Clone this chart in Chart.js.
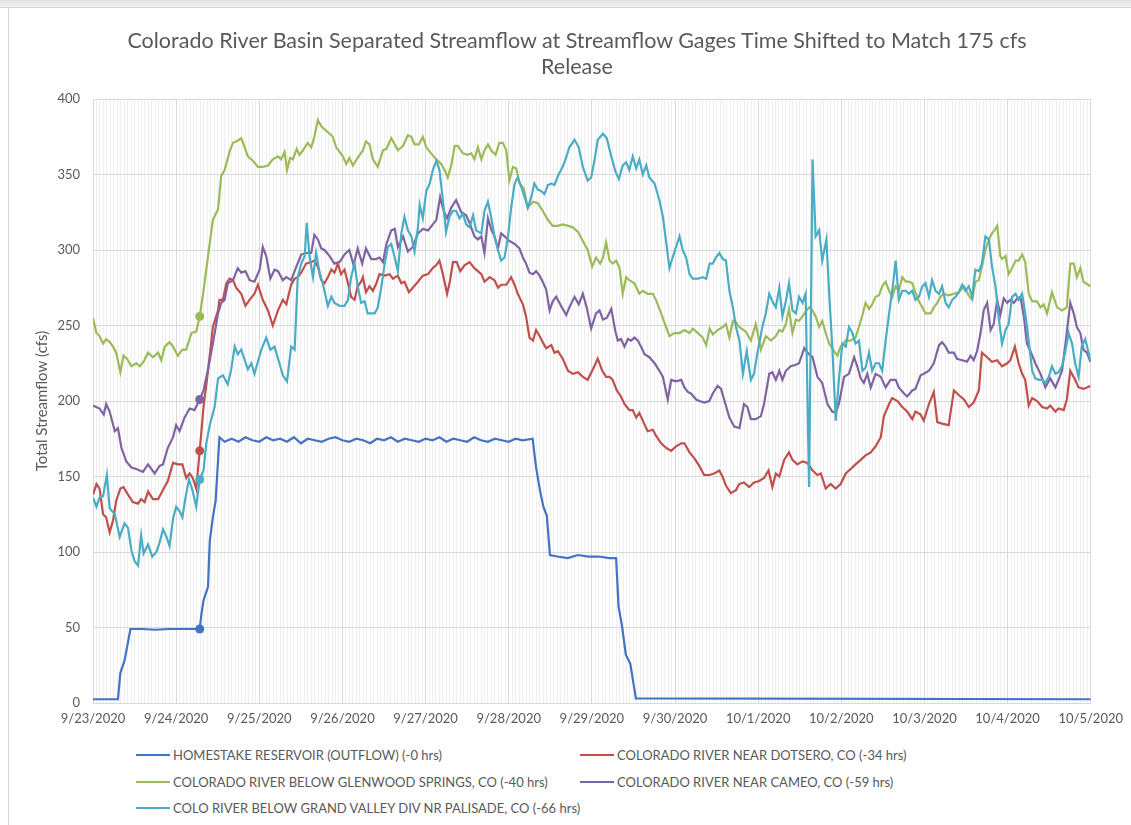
<!DOCTYPE html>
<html><head><meta charset="utf-8">
<script src="https://cdn.jsdelivr.net/npm/chart.js@4.4.1/dist/chart.umd.min.js"></script>
<style>
html,body{margin:0;padding:0;background:#fff;}
body{width:1131px;height:825px;position:relative;overflow:hidden;font-family:Lato,"Open Sans",sans-serif;}
#frameTop{position:absolute;left:0;top:0;width:1131px;height:7px;background:linear-gradient(#e4e4e4,#f2f2f2);border-bottom:1px solid #d4d4d4;}
#frameLeft{position:absolute;left:8px;top:8px;width:1px;height:817px;background:#d4d4d4;}
#title{position:absolute;left:0;width:1154px;top:27px;text-align:center;color:#595959;font-size:21.5px;line-height:26px;}
#c{position:absolute;left:0;top:0;}
.leg{position:absolute;height:18px;font-size:13px;color:#595959;white-space:nowrap;display:flex;align-items:center;}
.leg i{display:inline-block;width:34px;height:2px;margin-right:3px;}
</style></head>
<body>
<div id="frameTop"></div><div id="frameLeft"></div>
<canvas id="c" width="1131" height="740"></canvas>
<div id="title">Colorado River Basin Separated Streamflow at Streamflow Gages Time Shifted to Match 175 cfs<br>Release</div>
<div class="leg" style="left:136px;top:746px"><i style="background:#4472C4"></i>HOMESTAKE RESERVOIR (OUTFLOW) (-0 hrs)</div>
<div class="leg" style="left:580px;top:746px"><i style="background:#C0504D"></i>COLORADO RIVER NEAR DOTSERO, CO (-34 hrs)</div>
<div class="leg" style="left:136px;top:773px"><i style="background:#9BBB59"></i>COLORADO RIVER BELOW GLENWOOD SPRINGS, CO (-40 hrs)</div>
<div class="leg" style="left:580px;top:773px"><i style="background:#8064A2"></i>COLORADO RIVER NEAR CAMEO, CO (-59 hrs)</div>
<div class="leg" style="left:136px;top:799px"><i style="background:#4BACC6"></i>COLO RIVER BELOW GRAND VALLEY DIV NR PALISADE, CO (-66 hrs)</div>
<script>
// x values are hours after 9/23/2020 00:00
const dateLabels = ['9/23/2020','9/24/2020','9/25/2020','9/26/2020','9/27/2020','9/28/2020','9/29/2020','9/30/2020','10/1/2020','10/2/2020','10/3/2020','10/4/2020','10/5/2020'];
const markerHour = 30.8;

const homestakeHours = [0,7.2,7.9,9.1,10.8,14,18,22,26,30.8,31.3,31.9,33.2,33.7,34.6,35.4,36.5,38,40,42,44,46,48,50,52,54,56,58,60,62,64,66,68,70,72,74,76,78,80,82,84,86,88,90,92,94,96,98,100,102,104,106,108,110,112,114,116,118,120,122,124,126.9,127.9,129,130,131,131.9,134,137,140,143,146,149,151,151.7,152.7,153.8,155.1,156.7,288];
const homestakeFlow  = [2.5,2.5,20,28,49,49,48.5,49,49,49,59,68,77,107,123,134,176,173,175,173,176,174,173,176,174,175,173,176,172,175,174,173,175,176,174,173,175,174,172,175,174,176,173,175,174,173,175,174,176,173,175,174,173,176,174,173,175,174,173,175,174,175,156,141,130,124,98,97,96,98,97,97,96,96,64,51,32,26,3,2.5];

const dotseroHours = [0,1,1.9,2.9,3.8,4.8,5.8,6.7,7.9,8.8,10.1,11.5,13,13.9,14.9,15.9,17.3,18.8,20.2,21.6,23.1,24.5,25.8,26.9,27.9,28.8,29.8,30.8,31.9,33.2,34.6,36.1,36.5,37.5,38.5,39.4,40.4,41.3,42.8,44,45.2,46.6,47.6,49,50.5,51.9,53.4,54.8,55.8,57.2,58.2,59.1,60.1,61.5,63,63.9,64.9,65.9,66.8,67.8,68.8,69.7,70.7,71.6,72.6,73.6,74.5,75.5,76.4,77.4,77.9,78.8,79.8,80.8,81.8,82.7,84.2,85.6,86.6,88,89,89.9,91.2,92.3,93.8,95.2,96.7,98.1,99.1,100,101,102.2,103,103.9,105,106,107.3,108.7,110.1,111.1,112.1,113,114.5,115.9,116.9,117.8,119.3,120.7,121.7,122.6,124.1,125,126,127,127.9,128.9,129.8,130.8,132.3,133.2,134.2,135.6,137.1,138.5,140,141.4,142.8,144.3,145.7,147,148.1,149.1,150,151.2,152.4,153.4,154.8,155.8,156.8,157.7,158.7,160.1,161.6,162.5,164,165.4,166.9,168.3,169.8,170.7,172.2,173.6,175,176.4,177.9,179.3,180.8,181.7,182.7,184.1,185.6,186.5,187.9,189.4,190.8,192.3,193.7,195,196.1,197.1,198.1,199.5,200.9,201.9,203.3,204.8,206.2,207.7,209.1,210.1,211.5,212.9,214.4,215.8,217.3,218.7,220.1,221.6,223,224.5,225.9,227.4,228.3,229.8,230.7,232.2,233.6,235,236.5,237.4,238.9,239.8,241.3,242.7,243.7,245.1,247,248.5,249.9,251.4,252.8,254.2,255.7,256.6,258.1,259.5,261,262.4,263.9,264.8,266.1,267.2,268.2,269.1,270.1,271.1,272.5,274,275.4,276.3,277.8,278.7,280.2,281.1,282.1,283.5,284.5,285.9,287.9];
const dotseroFlow  = [138,145,142,125,123,113,121,134,142,143,138,133,132,135,133,140,135,135,141,147,159,158,158,149,152,149,142,167,196,220,249,260,267,267,278,281,280,275,271,263,267,271,277,267,260,250,260,267,264,277,281,282,285,291,292,293,289,280,278,282,287,285,291,284,287,278,269,267,276,279,282,272,276,273,278,284,283,284,281,283,278,279,272,275,279,283,284,288,290,293,284,271,279,292,292,286,290,292,288,286,284,279,282,280,275,277,277,282,277,271,264,256,242,240,247,243,239,235,237,232,233,228,220,218,219,216,214,221,228,220,216,216,214,207,203,198,194,194,189,192,187,180,181,177,172,169,167,170,172,172,166,162,157,151,151,152,154,150,144,139,141,145,146,143,146,147,149,154,143,152,150,161,166,161,158,160,159,154,151,152,142,145,142,145,152,155,158,161,164,166,170,176,190,198,202,200,196,193,188,193,191,187,198,206,186,185,184,207,204,201,196,199,207,232,229,226,227,223,225,227,236,225,218,214,197,202,200,196,195,197,193,195,194,201,220,214,209,208,210];

const glenwoodHours = [0,1,1.9,2.9,3.8,4.8,5.8,6.7,7.9,8.8,9.8,11.1,12.5,13.5,14.6,15.9,17.3,18.8,19.7,20.7,22.1,23.1,24.5,25.8,26.9,28.4,29.8,30.8,31.9,33.2,34.6,36.1,37,38,39.4,40.4,41.5,42.8,43.8,44.7,46.2,47.6,49,50.5,51.9,53.4,54.3,55.3,56,56.9,57.7,58.8,59.6,60.6,62,63,63.9,64.9,65.9,66.8,68.3,69.2,70.2,71.2,72.1,73.1,74,75,76.4,77.9,78.8,79.8,80.8,82.2,83.7,84.7,86.1,87.1,88,89.5,90.9,91.9,92.8,94.1,95.2,96.2,97.6,99.1,100.5,101.5,102.4,103.4,104.4,105.3,106.8,108.2,109.2,110.1,111.1,112.1,113,114,114.9,116.2,117.3,118.3,119.3,120.2,121.2,122.2,123.1,124.3,125.5,127,128.4,129.8,131.3,132.7,134.2,135.6,137.1,138.5,140,141.4,142.8,144.1,145.2,146.4,147.2,148.1,149.1,150,151,152,152.9,153.9,154.8,156.3,157.7,158.7,160.1,161.6,162.5,164,165.4,166.4,167.8,169.3,170.7,172.2,173.1,174.6,176,177,178,178.9,180.3,181.8,182.7,183.7,184.7,185.6,186.5,188.4,189.9,191.3,192.8,194.2,195.7,197.1,198.1,199,200,200.9,201.9,202.9,203.8,204.8,205.7,206.7,207.7,208.6,209.6,210.5,211.5,212.5,213.9,214.9,215.8,217.3,218.7,220.1,221.1,222.1,223,224,224.9,225.9,226.9,227.8,228.8,229.8,230.7,231.7,232.6,233.6,234.6,235.5,236.5,237.4,238.4,239.4,240.3,241.8,242.7,243.7,244.6,245.6,247,248.5,249.9,251.4,252.8,253.8,254.7,255.7,256.6,257.6,258.6,259.5,260.5,261,261.9,262.4,263.4,264.3,265.3,266.3,267.2,268.2,269.1,270.1,271.1,272.5,273.5,274.4,275.4,276.8,278.3,279.7,281.1,282.1,283.1,284,285,285.9,287.9];
const glenwoodFlow  = [255,245,243,238,241,239,236,232,219,230,228,223,225,223,226,232,229,232,227,236,239,236,230,234,234,245,246,256,273,296,320,327,349,353,365,371,372,374,368,362,359,355,355,356,360,362,360,365,353,361,360,367,363,366,371,368,375,386,382,380,377,375,368,365,362,357,361,356,361,366,372,370,360,355,366,367,374,370,366,369,376,375,370,370,375,368,364,360,357,353,348,356,369,369,364,363,364,360,368,360,366,370,366,363,371,371,366,346,355,354,344,341,328,332,331,326,320,316,316,317,316,315,312,306,300,289,295,291,295,305,293,291,293,288,271,282,280,278,271,273,271,271,267,258,249,243,245,245,247,245,248,245,242,237,248,244,247,249,251,242,253,252,249,246,240,251,234,243,240,243,247,246,251,261,245,254,253,256,259,262,260,256,249,253,245,238,233,230,236,240,240,242,249,257,265,261,264,269,270,276,279,273,269,276,273,282,279,279,278,272,266,262,258,258,262,265,269,271,270,271,272,276,270,267,279,280,289,300,307,311,314,316,296,294,296,284,288,293,293,297,292,271,266,266,262,264,258,272,262,260,262,291,291,282,288,279,276];

const cameoHours = [0,1.9,3.1,3.8,4.8,6.3,7.2,8.2,9.6,11.1,12.5,14.4,15.9,17.8,19.2,20.2,21.6,23.1,24,25,26.4,27.9,29.3,30.8,31.9,33.2,34.6,36.1,37,38,38.9,40.4,41.8,42.8,44,45.2,46.6,48.1,49,50,51.2,52.4,53.4,54.8,55.8,57.2,58.7,60.1,61.5,63,63.9,64.9,65.9,66.8,68.3,69.7,71.2,72.6,74,75.2,76.4,77.7,78.8,80.3,81.7,82.7,83.7,84.7,86.1,87.1,88,89.5,90.9,92.3,93.8,95.2,96.7,98.1,99.1,100.2,101.2,102.2,103.4,104.8,106.3,107.7,108.7,110.1,111.1,112.1,113,114,114.9,115.9,116.9,117.8,118.8,120.2,121.7,123.1,124.1,125,126,127,127.9,128.9,129.8,130.8,131.8,132.7,133.7,135.1,136.6,137.5,139,140.2,141.4,142.5,143.8,145.2,146.2,147.2,148.3,149.6,150.8,151.5,152.4,153.4,154.4,155.3,156.3,157.3,158.2,159.2,160.6,162.1,163.5,164.5,165.9,166.9,168.3,169.8,170.7,171.7,172.6,174.1,175,176.5,177.9,178.9,180.3,181.3,182.3,183.7,185.1,186.6,187.9,188.9,189.9,191.3,192.8,193.7,195.2,196.1,197.1,198.1,199,200,201.4,202.9,203.8,205.3,206.2,207.7,209.1,210.5,212,213.4,214.4,215.3,216.8,218.2,219.7,220.6,221.6,222.5,223.5,224.5,225.9,227.4,228.8,230.2,231.7,232.6,234.1,235,236.5,237.4,238.9,239.8,241.3,242.7,244.2,245.1,246.1,247,248.5,249.4,250.9,252.3,253.3,254.2,255.2,256.2,257.1,258.1,259.1,260,261,261.9,262.9,263.9,264.8,265.8,266.8,267.7,268.7,269.6,270.6,272,273.5,274.9,276.3,277.8,278.7,279.7,280.6,282.1,283.1,284,285,285.9,286.9,287.9];
const cameoFlow  = [197,195,191,198,193,180,182,169,160,156,155,153,158,152,157,158,169,176,184,180,189,195,194,201,207,221,238,258,265,267,278,280,288,285,286,280,279,287,302,296,281,287,286,280,282,280,289,297,298,298,310,307,301,300,296,291,292,297,300,290,301,291,301,294,294,295,292,304,313,314,302,309,299,302,311,314,313,317,320,335,326,321,328,333,325,323,318,309,307,309,298,321,314,309,301,311,309,306,304,301,295,291,285,284,286,283,279,274,260,266,269,263,257,262,269,264,271,262,248,258,260,254,255,261,246,240,241,236,241,240,242,240,236,231,229,225,220,216,201,214,213,214,209,206,205,201,200,199,200,205,210,208,200,189,183,182,198,196,188,188,190,198,218,219,214,220,214,220,223,224,225,235,232,229,216,212,198,193,192,198,216,218,229,223,215,212,218,209,218,216,209,214,214,209,205,203,207,208,217,218,220,225,237,239,236,232,232,228,227,226,230,227,233,245,260,265,247,251,267,257,268,265,267,265,268,269,256,238,233,225,218,209,215,209,214,220,236,265,258,249,245,234,232,226];

const palisadeHours = [0,1,1.9,2.9,4,4.8,6.3,7.7,9.1,10.1,11.1,12,13,13.9,14.6,15.9,17.1,18.3,19.2,20.2,21.2,22.1,23.1,24,25,25.8,26.7,27.7,28.7,29.8,30.8,31.9,32.7,33.8,35.1,36.1,37.5,38.9,39.9,40.9,41.8,42.8,43.8,44.7,45.7,46.6,47.6,48.6,50,51.2,52.4,53.8,54.8,56,57.2,58.2,59.1,60.1,61.1,61.7,62.5,63.5,64.4,65.4,66.3,67.8,68.8,69.7,71.2,72.6,73.6,74.5,75.5,76.4,77.4,78.4,79.3,80.3,81.3,82.2,83.2,84.2,85.1,86.1,87.1,88,89,89.9,90.9,91.9,92.8,93.8,94.3,95.2,96.2,97.2,98.1,99.1,100,101,101.9,102.9,103.9,104.8,105.8,106.8,107.7,108.7,109.7,110.6,112.1,113,114,114.9,115.9,116.9,117.8,118.8,119.8,120.7,121.7,122.6,123.6,124.6,125.5,126.5,127.4,128.4,129.4,130.3,131.3,132.3,133.2,134.2,135.1,136.1,137.5,139,140.2,141.4,142.8,143.8,144.8,145.7,147.2,148.3,149.6,150.8,151.8,152.9,153.9,154.8,155.8,156.8,157.7,158.7,159.7,160.6,162.1,163.5,164.5,165.4,166.4,167.3,168.3,169.3,170.2,171.2,172.2,173.1,174.6,176,177,178,178.9,179.8,180.8,181.8,182.7,183.7,184.7,185.6,186.6,187.6,188.7,189.9,190.8,191.8,193.2,194.2,195.2,196.1,197.1,198.1,199,200,200.9,201.9,202.9,203.8,204.8,205.7,206.7,207.7,208.6,209.6,210.5,211.7,212.5,213.4,214.4,215.3,216.3,217.3,218.2,219.2,220.1,221.1,222.1,223,224,224.9,225.9,226.9,227.8,228.8,229.8,230.7,231.7,232.6,233.6,234.6,235.5,236.5,237.4,238.4,239.4,240.3,241.3,242.2,243.2,244.2,245.1,246.1,247,248,249,249.9,250.9,251.8,252.8,253.8,254.7,255.7,256.6,257.6,258.6,259.5,260.5,261.5,262.4,263.4,264.3,265.3,266.3,267.2,268.2,269.1,270.1,271.1,272,273,273.9,274.9,275.9,276.8,277.8,278.7,279.7,280.6,281.6,282.6,283.5,284.5,285.4,286.4,287.9];
const palisadeFlow  = [136,130,136,137,151,129,125,110,119,116,101,94,91,111,99,105,97,100,106,115,110,104,122,130,127,123,136,148,141,130,148,154,172,185,196,215,217,211,221,236,231,234,227,221,225,218,226,234,242,234,236,225,217,213,236,234,282,291,296,318,296,282,298,285,278,263,269,265,263,263,267,282,291,276,265,266,258,258,258,262,275,291,302,304,295,286,311,322,313,309,299,315,330,321,339,344,353,359,353,333,312,322,326,326,321,324,317,315,323,313,311,326,332,322,309,300,293,295,309,328,344,348,342,335,328,335,344,340,339,337,343,344,343,349,353,358,368,373,368,355,346,348,360,373,377,374,362,352,347,356,358,353,362,354,360,350,356,348,344,333,322,306,288,295,302,309,300,295,284,281,281,282,281,291,291,295,298,294,293,273,262,249,240,218,233,214,218,232,249,258,271,266,262,275,256,266,278,260,258,269,265,271,143,360,309,313,293,307,271,236,187,214,238,236,249,245,238,240,220,222,232,220,225,225,220,240,258,273,293,267,273,273,271,273,267,269,276,278,269,280,273,271,276,265,262,267,269,272,277,273,276,269,287,286,291,309,307,289,276,254,238,247,251,269,271,267,271,258,240,220,215,214,214,212,216,223,218,219,223,232,245,238,225,216,236,241,227];

function pts(hours, flow){ return hours.map((h,i)=>({x:h, y:flow[i]})); }
function series(label, color, hours, flow){
  return {label, data: pts(hours, flow), borderColor: color, backgroundColor: color,
    borderWidth: 2.2, tension: 0, fill: false,
    pointRadius: c => (c.raw && c.raw.x === markerHour) ? 4.5 : 0,
    pointBorderWidth: 0, pointHoverRadius: 0};
}
const fontFam = 'Lato, "Open Sans", sans-serif';
// reversed so the first listed series (Homestake) is underneath and Palisade is on top
const datasets = [
  series('COLO RIVER BELOW GRAND VALLEY DIV NR PALISADE, CO (-66 hrs)', '#4BACC6', palisadeHours, palisadeFlow),
  series('COLORADO RIVER NEAR CAMEO, CO (-59 hrs)', '#8064A2', cameoHours, cameoFlow),
  series('COLORADO RIVER BELOW GLENWOOD SPRINGS, CO (-40 hrs)', '#9BBB59', glenwoodHours, glenwoodFlow),
  series('COLORADO RIVER NEAR DOTSERO, CO (-34 hrs)', '#C0504D', dotseroHours, dotseroFlow),
  series('HOMESTAKE RESERVOIR (OUTFLOW) (-0 hrs)', '#4472C4', homestakeHours, homestakeFlow)
];

new Chart(document.getElementById('c'), {
  type: 'line',
  data: { datasets },
  options: {
    responsive: false, animation: false, maintainAspectRatio: false,
    layout: { padding: { left: 0, right: 39, top: 99, bottom: 0 } },
    plugins: { legend: { display: false }, tooltip: { enabled: false }, title: { display: false } },
    scales: {
      x: {
        type: 'linear', min: 0, max: 288,
        ticks: { stepSize: 1, autoSkip: false, maxRotation: 0, minRotation: 0, padding: 8,
          color: '#595959', font: { family: fontFam, size: 13 },
          callback: v => (v % 24 === 0) ? dateLabels[v / 24] : '' },
        grid: { color: c => (c.tick && c.tick.value % 24 === 0) ? '#d9d9d9' : '#efefef', drawTicks: false, lineWidth: 1 },
        border: { color: '#d9d9d9' },
        afterFit: s => { s.height = 37; }
      },
      y: {
        min: 0, max: 400,
        ticks: { stepSize: 50, padding: 13, color: '#595959', font: { family: fontFam, size: 13 } },
        grid: { color: '#d9d9d9', drawTicks: false },
        border: { display: false },
        title: { display: true, text: 'Total Streamflow (cfs)', color: '#595959',
          font: { family: fontFam, size: 15 }, padding: { top: 33, bottom: 0 } },
        afterFit: s => { s.width = 93; }
      }
    }
  }
});
</script>
</body></html>
